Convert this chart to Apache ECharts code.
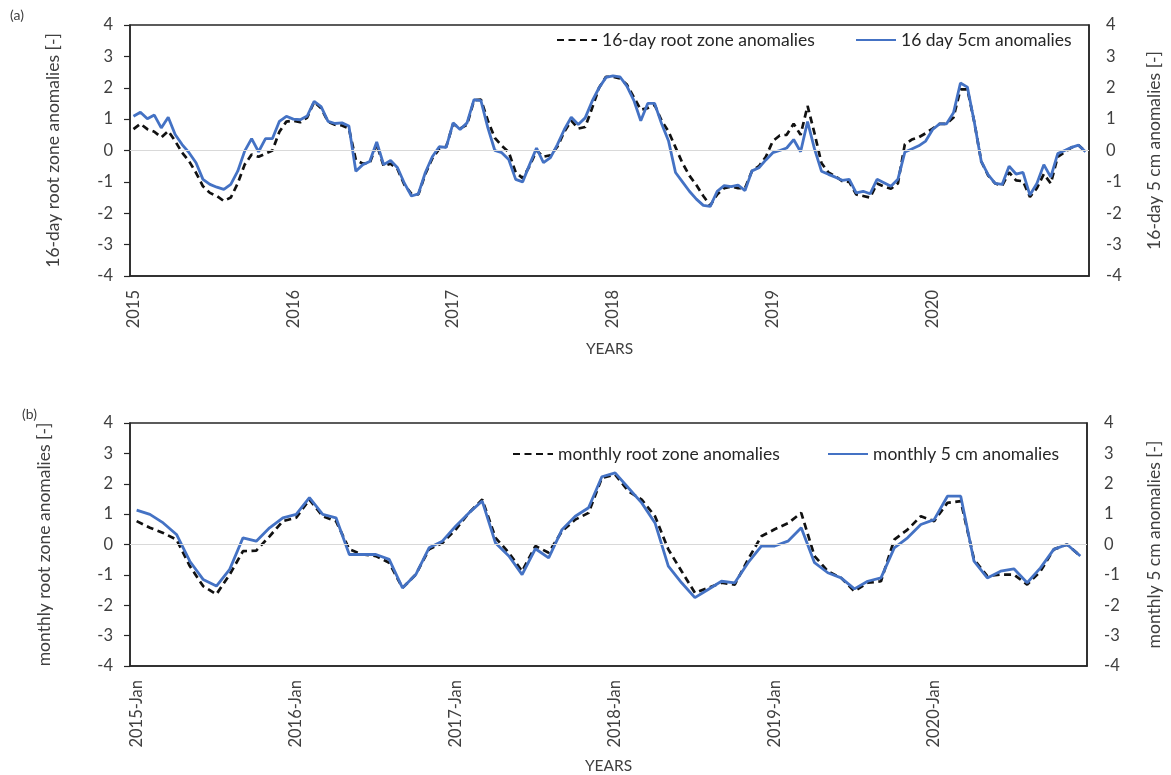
<!DOCTYPE html>
<html>
<head>
<meta charset="utf-8">
<title>Soil moisture anomalies 2015-2020</title>
<script src="https://cdn.jsdelivr.net/npm/echarts@6/dist/echarts.min.js"></script>
<style>
  html, body { margin: 0; padding: 0; background: #ffffff; }
  #chart { width: 1171px; height: 775px; }
</style>
</head>
<body>
<div id="chart"></div>
<script>
// ---- data ----
const years = ['2015', '2016', '2017', '2018', '2019', '2020'];
const monthNames = ['Jan', 'Feb', 'Mar', 'Apr', 'May', 'Jun', 'Jul', 'Aug', 'Sep', 'Oct', 'Nov', 'Dec'];
const compositeDays = [1, 17, 33, 49, 65, 81, 97, 113, 129, 145, 161, 177, 193, 209, 225, 241, 257, 273, 289, 305, 321, 337, 353];

// 16-day composites (23 per year)
const rootZone16 = [
  0.68, 0.85, 0.68, 0.6, 0.42, 0.62, 0.3, -0.07, -0.34, -0.71, -1.14, -1.35, -1.45, -1.61, -1.5, -1.05, -0.45, -0.13, -0.2, -0.1, 0.0, 0.6, 0.92,
  0.95, 0.9, 1.05, 1.55, 1.35, 0.92, 0.82, 0.8, 0.7, -0.3, -0.42, -0.4, 0.2, -0.5, -0.42, -0.6, -1.1, -1.38, -1.4, -0.75, -0.25, 0.05, 0.12,
  0.85, 0.7, 0.82, 1.6, 1.62, 0.95, 0.4, 0.15, -0.05, -0.7, -0.88, -0.5, 0.0, -0.2, -0.15, 0.12, 0.6, 0.95, 0.7, 0.75, 1.35, 2.0, 2.35,
  2.35, 2.3, 2.1, 1.7, 1.3, 1.35, 1.45, 0.95, 0.6, 0.1, -0.4, -0.8, -1.1, -1.45, -1.75, -1.4, -1.2, -1.15, -1.2, -1.2, -0.65, -0.5, -0.2,
  0.3, 0.48, 0.5, 0.85, 0.5, 1.42, 0.55, -0.4, -0.7, -0.82, -0.98, -1.0, -1.4, -1.45, -1.5, -1.05, -1.15, -1.22, -1.05, 0.2, 0.35, 0.42, 0.55,
  0.7, 0.85, 0.85, 1.05, 1.95, 1.95, 0.9, -0.35, -0.8, -1.05, -1.12, -0.7, -0.95, -0.98, -1.48, -1.2, -0.75, -1.05, -0.2, -0.05, 0.1, 0.17, -0.04
];
const surface16 = [
  1.09, 1.22, 1.01, 1.13, 0.72, 1.06, 0.51, 0.19, -0.07, -0.39, -0.92, -1.08, -1.17, -1.24, -1.08, -0.66, -0.02, 0.38, -0.04, 0.38, 0.38, 0.93, 1.09,
  1.0, 0.98, 1.1, 1.57, 1.4, 0.93, 0.86, 0.88, 0.78, -0.66, -0.45, -0.35, 0.27, -0.45, -0.32, -0.55, -1.05, -1.45, -1.38, -0.7, -0.2, 0.12, 0.1,
  0.88, 0.67, 0.88, 1.62, 1.59, 0.72, 0.0, -0.07, -0.29, -0.92, -1.0, -0.45, 0.08, -0.39, -0.23, 0.19, 0.67, 1.06, 0.83, 1.04, 1.57, 2.0, 2.33,
  2.38, 2.35, 2.05, 1.6, 0.95, 1.5, 1.5, 0.85, 0.3, -0.7, -1.0, -1.3, -1.55, -1.75, -1.78, -1.3, -1.12, -1.15, -1.1, -1.28, -0.65, -0.55, -0.3,
  -0.07, 0.0, 0.08, 0.35, -0.04, 0.92, 0.05, -0.66, -0.76, -0.85, -0.95, -0.92, -1.35, -1.3, -1.38, -0.92, -1.03, -1.14, -0.92, -0.05, 0.05, 0.15, 0.3,
  0.67, 0.85, 0.85, 1.2, 2.15, 2.02, 0.9, -0.35, -0.78, -1.05, -1.08, -0.5, -0.75, -0.7, -1.42, -1.05, -0.45, -0.85, -0.1, 0.0, 0.1, 0.17, -0.04
];

// monthly means (12 per year)
const rootZoneMonthly = [
  0.77, 0.55, 0.38, 0.16, -0.71, -1.37, -1.64, -0.99, -0.22, -0.2, 0.27, 0.77,
  0.88, 1.48, 0.93, 0.77, -0.16, -0.33, -0.38, -0.6, -1.43, -0.99, -0.16, 0.05,
  0.49, 1.04, 1.48, 0.22, -0.27, -0.88, -0.05, -0.27, 0.44, 0.82, 1.04, 2.19,
  2.3, 1.75, 1.48, 0.93, -0.16, -0.88, -1.59, -1.43, -1.26, -1.32, -0.49, 0.27,
  0.5, 0.7, 1.04, -0.38, -0.88, -1.1, -1.54, -1.26, -1.21, 0.16, 0.49, 0.93,
  0.77, 1.37, 1.43, -0.49, -1.04, -0.99, -0.99, -1.32, -0.88, -0.16, 0.0, -0.38
];
const surfaceMonthly = [
  1.13, 0.99, 0.71, 0.33, -0.55, -1.15, -1.37, -0.82, 0.22, 0.11, 0.55, 0.88,
  0.99, 1.54, 0.99, 0.88, -0.33, -0.33, -0.33, -0.49, -1.43, -0.99, -0.11, 0.11,
  0.6, 1.04, 1.43, 0.05, -0.38, -0.99, -0.14, -0.44, 0.49, 0.93, 1.21, 2.23,
  2.36, 1.86, 1.37, 0.71, -0.71, -1.26, -1.75, -1.48, -1.21, -1.26, -0.6, -0.05,
  -0.05, 0.11, 0.55, -0.6, -0.93, -1.1, -1.46, -1.21, -1.1, -0.11, 0.22, 0.66,
  0.82, 1.59, 1.59, -0.55, -1.1, -0.88, -0.8, -1.26, -0.77, -0.16, 0.0, -0.38
];

// ---- category labels ----
const cats16 = [];
years.forEach(y => compositeDays.forEach(d => cats16.push(y + '-' + String(d).padStart(3, '0'))));
const catsMonthly = [];
years.forEach(y => monthNames.forEach(m => catsMonthly.push(y + '-' + m)));

// ---- styling ----
const FONT = 'Lato';
const TEXT = '#404040';
const FRAME = '#262626';
const BLUE = '#4472C4';
const DASH = '#111111';

function yAxisDef(gridIndex, name, position, gap) {
  return {
    type: 'value', gridIndex: gridIndex, position: position,
    min: -4, max: 4, interval: 1,
    axisLine: { show: true, onZero: false, lineStyle: { color: FRAME, width: 1.5 } },
    axisTick: { show: position === 'left', length: 6, lineStyle: { color: FRAME, width: 1.2 } },
    splitLine: { show: false },
    axisLabel: { color: TEXT, fontSize: 16.5, fontFamily: FONT, margin: 17 },
    name: name, nameLocation: 'middle', nameGap: gap, nameRotate: 90,
    nameTextStyle: { color: TEXT, fontSize: 17.5, fontFamily: FONT }
  };
}

function xAxisDef(gridIndex, data, step, gap) {
  return {
    type: 'category', gridIndex: gridIndex, data: data, boundaryGap: true,
    axisLine: { show: true, onZero: false, lineStyle: { color: FRAME, width: 1.5 } },
    axisTick: { show: false },
    axisLabel: {
      interval: (idx) => idx % step === 0,
      formatter: (v) => step === 23 ? v.slice(0, 4) : v,
      rotate: 90, margin: 14, color: TEXT, fontSize: 16.5, fontFamily: FONT
    },
    name: 'YEARS', nameLocation: 'middle', nameGap: gap,
    nameTextStyle: { color: TEXT, fontSize: 15.5, fontFamily: FONT }
  };
}

function zeroLine(xi, yi) {
  return {
    name: 'zero-' + xi, type: 'line', xAxisIndex: xi, yAxisIndex: yi, data: [], z: 1, silent: true,
    markLine: {
      silent: true, symbol: 'none', label: { show: false },
      lineStyle: { color: '#d9d9d9', width: 1.2, type: 'solid' },
      data: [{ yAxis: 0 }]
    }
  };
}

function dashedSeries(name, xi, yi, data) {
  return {
    name: name, type: 'line', xAxisIndex: xi, yAxisIndex: yi, data: data, z: 3,
    symbol: 'none', smooth: false, animation: false, color: DASH,
    itemStyle: { color: DASH },
    lineStyle: { color: DASH, width: 2.7, type: [7, 4.5] }
  };
}

function solidSeries(name, xi, yi, data) {
  return {
    name: name, type: 'line', xAxisIndex: xi, yAxisIndex: yi, data: data, z: 4,
    symbol: 'none', smooth: false, animation: false, color: BLUE,
    itemStyle: { color: BLUE },
    lineStyle: { color: BLUE, width: 2.8 }
  };
}

function legendItem(name, left, top) {
  return {
    data: [name], left: left, top: top, padding: 0, orient: 'horizontal',
    itemWidth: 40, itemHeight: 14, selectedMode: false,
    itemStyle: { color: 'rgba(0,0,0,0)', borderColor: 'rgba(0,0,0,0)', borderWidth: 0 },
    textStyle: { color: '#262626', fontSize: 17.5, fontFamily: FONT }
  };
}

const chart = echarts.init(document.getElementById('chart'), null, { renderer: 'canvas' });
chart.setOption({
  backgroundColor: '#ffffff',
  animation: false,
  graphic: [
    { type: 'text', left: 10, top: 8, style: { text: '(a)', fontSize: 14, fontFamily: FONT, fill: TEXT } },
    { type: 'text', left: 22, top: 407, style: { text: '(b)', fontSize: 14, fontFamily: FONT, fill: TEXT } }
  ],
  legend: [
    legendItem('16-day root zone anomalies', 556, 31),
    legendItem('16 day 5cm anomalies', 855, 31),
    legendItem('monthly root zone anomalies', 512, 445),
    legendItem('monthly 5 cm anomalies', 827, 445)
  ],
  grid: [
    { left: 130, top: 25, width: 960, height: 251, show: true, borderColor: FRAME, borderWidth: 1.5, containLabel: false },
    { left: 130, top: 423, width: 971, height: 244, show: true, borderColor: FRAME, borderWidth: 1.5, containLabel: false }
  ],
  xAxis: [
    xAxisDef(0, cats16, 23, 65),
    xAxisDef(1, catsMonthly, 12, 92)
  ],
  yAxis: [
    yAxisDef(0, '16-day root zone anomalies [-]', 'left', 68),
    yAxisDef(0, '16-day 5 cm anomalies [-]', 'right', 56),
    yAxisDef(1, 'monthly root zone anomalies [-]', 'left', 77),
    yAxisDef(1, 'monthly 5 cm anomalies [-]', 'right', 58)
  ],
  series: [
    zeroLine(0, 0),
    dashedSeries('16-day root zone anomalies', 0, 0, rootZone16),
    solidSeries('16 day 5cm anomalies', 0, 1, surface16),
    zeroLine(1, 2),
    dashedSeries('monthly root zone anomalies', 1, 2, rootZoneMonthly),
    solidSeries('monthly 5 cm anomalies', 1, 3, surfaceMonthly)
  ]
});
</script>
</body>
</html>
